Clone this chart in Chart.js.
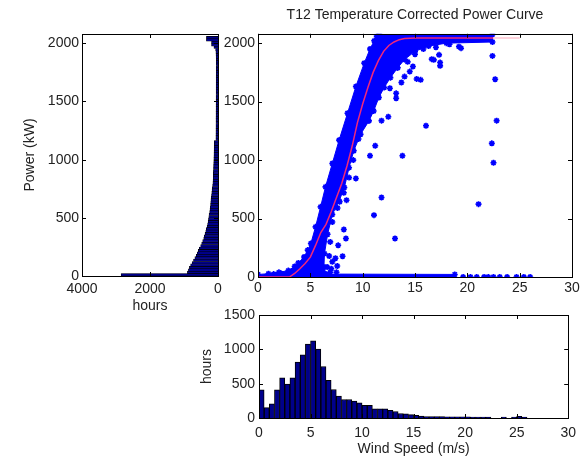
<!DOCTYPE html>
<html>
<head>
<meta charset="utf-8">
<title>T12 Temperature Corrected Power Curve</title>
<script src="https://cdn.jsdelivr.net/npm/chart.js"></script>
<style>
  html, body { margin: 0; padding: 0; background: #fff; }
  body { width: 583px; height: 459px; position: relative; overflow: hidden; }
  canvas { position: absolute; }
  #graficoPotHoras { left: 0; top: 0; }
  #graficoCurva { left: 200px; top: 0; }
  #graficoVento { left: 195px; top: 300px; }
</style>
</head>
<body>
<canvas id="graficoPotHoras" width="230" height="320"></canvas>
<canvas id="graficoCurva" width="383" height="300"></canvas>
<canvas id="graficoVento" width="388" height="159"></canvas>
<script>
// histograma da potencia (classes de 20,8 kW, de 0 a 2080 kW) - horas por classe
var larguraClassePot = 20.8;
var horasPot = [
    2850, 900, 870, 840, 805, 760, 720, 680, 640, 610,
    580, 550, 510, 480, 450, 420, 405, 380, 360, 345,
    320, 305, 290, 280, 270, 262, 245, 235, 225, 218,
    214, 208, 200, 190, 183, 175, 166, 158, 150, 145,
    140, 140, 138, 135, 132, 130, 127, 125, 122, 120,
    118, 116, 114, 112, 110, 108, 62, 62, 61, 61,
    60, 60, 60, 59, 59, 59, 58, 58, 58, 57,
    57, 57, 56, 56, 56, 55, 55, 55, 55, 54,
    54, 54, 54, 53, 53, 53, 53, 52, 52, 52,
    55, 58, 62, 70, 120, 190, 190, 340, 340, 0
];

// histograma do vento (classes de 0,5 m/s, de 0 a 26 m/s) - horas por classe
var larguraClasseVento = 0.5;
var horasVento = [
    410, 150, 205, 410, 585, 495, 585, 815, 920, 1075,
    1125, 1005, 750, 550, 415, 320, 270, 270, 248, 220,
    185, 185, 135, 135, 132, 110, 95, 65, 62, 50,
    40, 28, 22, 20, 20, 19, 18, 18, 17, 16,
    16, 15, 15, 14, 12, 0, 0, 14, 0, 15,
    24, 12
];

// curva de potencia corrigida (m/s, kW)
var curvaVento = [0, 3, 3.5, 4, 4.5, 5, 5.5, 6, 6.5, 7, 7.5, 8, 8.5, 9, 9.5, 10, 10.5, 11, 11.5, 12, 12.5, 13, 13.5, 14, 15, 22.5, 25];
var curvaPot   = [0, 0, 30, 70, 115, 170, 270, 380, 450, 560, 680, 800, 950, 1120, 1320, 1480, 1620, 1750, 1850, 1930, 1980, 2010, 2030, 2040, 2045, 2045, 2045];

// contorno da nuvem densa de medicoes (m/s, kW)
var nuvemVento = [0, 0, 1, 2, 2.9, 3.5, 3.85, 4.4, 4.75, 5.05, 5.5, 5.98, 6.45, 7.1, 7.75, 8.55, 9.35, 10.15, 10.7, 11.1, 11.35, 11.6,
    22.4, 22.4, 18, 16.3, 15.0, 14.0, 13.35, 12.65, 12.05, 11.55, 11.05, 10.6, 9.8, 9.15, 8.7, 8.25, 7.75, 7.1, 6.65, 6.35, 6.3, 6.5, 18.8, 18.8];
var nuvemPot = [-22, 22, 28, 40, 55, 90, 120, 171, 230, 286, 429, 600, 771, 971, 1171, 1400, 1629, 1829, 1950, 2020, 2060, 2075,
    2075, 2010, 2000, 1975, 1930, 1860, 1790, 1705, 1620, 1535, 1420, 1335, 1220, 1080, 935, 765, 650, 535, 365, 200, 86, 25, 22, -22];

// medicoes isoladas fora da nuvem (m/s, kW)
var soltosVento = [21.07, 13.09, 11.08, 11.8, 13.8, 10.7, 11.2, 16.05, 22.5, 22.34, 22.8, 22.66, 22.4, 19.4, 19.2, 17.4, 17.4, 16.6, 16.8, 15.54,
    15.16, 14.5, 14.8, 17.3, 12.45, 11.8, 13.2, 13.2, 12.6, 14.0, 13.7, 8.2, 8.4, 7.66, 8.08, 7.57, 7.0, 6.6, 9.35, 8.46,
    7.8, 19.6, 20.3, 20.9, 21.6, 22.0, 22.5, 23.1, 23.8, 24.7, 25.4, 26.0, 12.2, 12.7, 13.3, 14.3, 15.0, 15.8, 17.0, 18.3,
    11.5, 11.0, 10.5, 10.0, 9.6, 9.1, 8.7, 8.2, 7.6, 7.1, 6.9, 6.8, 7.1, 7.4, 6.9, 7.5, 3.0, 2.2, 1.5];
var soltosPot = [623, 329, 529, 680, 1037, 1037, 1123, 1294, 977, 1143, 1337, 1691, 1891, 1957, 1970, 1834, 1806, 1863, 1857, 1686,
    1694, 1757, 1800, 1900, 1371, 1337, 1529, 1571, 1614, 1714, 1663, 406, 329, 271, 177, 94, 71, 86, 843, 657,
    643, 0, 0, 0, 0, 0, 0, 0, 0, 0, 0, 0, 1900, 1860, 1790, 1840, 1905, 1950, 1965, 1990,
    1700, 1560, 1420, 1300, 1180, 1000, 850, 720, 590, 470, 300, 180, 130, 160, 40, 40, 45, 30, 25];

// marcas dos eixos
var marcasPot = [0, 500, 1000, 1500, 2000];
var marcasHorasPot = [0, 2000, 4000];
var marcasVento = [0, 5, 10, 15, 20, 25, 30];
var marcasHorasVento = [0, 500, 1000, 1500];

var azulBarra = '#00008b';
var azulPonto = '#0000ff';
var corTexto = '#222';

Chart.defaults.font.family = '"Liberation Sans", Arial, sans-serif';
Chart.defaults.font.size = 14;
Chart.defaults.color = corTexto;
Chart.defaults.animation = false;
Chart.defaults.plugins.legend.display = false;
Chart.defaults.plugins.tooltip.enabled = false;

// caixa com marcas para dentro, como no matlab
var caixaMatlab = {
    id: 'caixaMatlab',
    afterDraw: function (grafico) {
        var ctx = grafico.ctx;
        var area = grafico.chartArea;
        var escX = grafico.scales.x;
        var escY = grafico.scales.y;
        var tam = 4;
        ctx.save();
        ctx.strokeStyle = '#000';
        ctx.lineWidth = 1;
        ctx.beginPath();
        escX.ticks.forEach(function (t) {
            var px = Math.round(escX.getPixelForValue(t.value)) + 0.5;
            ctx.moveTo(px, area.bottom); ctx.lineTo(px, area.bottom - tam);
            ctx.moveTo(px, area.top); ctx.lineTo(px, area.top + tam);
        });
        escY.ticks.forEach(function (t) {
            var py = Math.round(escY.getPixelForValue(t.value)) + 0.5;
            ctx.moveTo(area.left, py); ctx.lineTo(area.left + tam, py);
            ctx.moveTo(area.right, py); ctx.lineTo(area.right - tam, py);
        });
        ctx.stroke();
        ctx.strokeRect(Math.round(area.left) + 0.5, Math.round(area.top) + 0.5,
            Math.round(area.right - area.left), Math.round(area.bottom - area.top));
        ctx.restore();
    }
};

function centrosClasses(largura, n) {
    var c = [];
    for (var i = 0; i < n; i++) c.push(largura * (i + 0.5));
    return c;
}

function paresXY(xs, ys) {
    return xs.map(function (x, i) { return { x: x, y: ys[i] }; });
}

function eixo(min, max, marcas, padTicks, extra) {
    var base = {
        type: 'linear',
        min: min,
        max: max,
        offset: false,
        grid: { display: false, drawTicks: false, offset: false },
        border: { display: false },
        afterBuildTicks: function (e) {
            e.ticks = marcas.map(function (v) { return { value: v }; });
        },
        ticks: {
            autoSkip: false,
            maxRotation: 0,
            padding: padTicks,
            callback: function (v) { return String(v); }
        }
    };
    return Object.assign(base, extra);
}

document.addEventListener('DOMContentLoaded', function () {

    var centrosPot = centrosClasses(larguraClassePot, horasPot.length);
    var centrosVento = centrosClasses(larguraClasseVento, horasVento.length);

    // horas por classe de potencia (barras horizontais, eixo invertido)
    new Chart(document.getElementById('graficoPotHoras'), {
        type: 'bar',
        data: {
            datasets: [{
                data: paresXY(horasPot, centrosPot),
                backgroundColor: azulBarra,
                borderColor: '#000',
                borderWidth: 0.6,
                barPercentage: 1,
                categoryPercentage: 1
            }]
        },
        options: {
            responsive: false,
            indexAxis: 'y',
            layout: { padding: { top: 34, right: 12, left: 0, bottom: 0 } },
            scales: {
                x: eixo(0, 4000, marcasHorasPot, 5, {
                    reverse: true,
                    title: { display: true, text: 'hours', padding: { top: 0, bottom: 5 } },
                    afterFit: function (e) { e.height = 44; }
                }),
                y: eixo(0, 2080, marcasPot, 3, {
                    title: { display: true, text: 'Power (kW)', padding: { top: 22, bottom: 0 } },
                    afterFit: function (e) { e.width = 82; }
                })
            }
        },
        plugins: [caixaMatlab]
    });

    // curva de potencia com as medicoes
    new Chart(document.getElementById('graficoCurva'), {
        type: 'scatter',
        data: {
            datasets: [{
                data: paresXY(curvaVento, curvaPot),
                showLine: true,
                borderWidth: 1.5,
                pointRadius: 0,
                segment: {
                    borderColor: function (c) { return c.p0.parsed.x >= 22.5 ? '#ffc4d2' : '#f0287a'; }
                },
                order: 0
            }, {
                data: paresXY(soltosVento, soltosPot),
                pointStyle: 'star',
                pointRadius: 3,
                pointBorderWidth: 1.6,
                pointBorderColor: azulPonto,
                pointBackgroundColor: azulPonto,
                order: 1
            }, {
                data: paresXY(nuvemVento, nuvemPot),
                showLine: true,
                fill: 'shape',
                backgroundColor: azulPonto,
                borderColor: azulPonto,
                borderWidth: 1,
                pointStyle: 'star',
                pointRadius: 3,
                pointBorderWidth: 1.6,
                pointBorderColor: azulPonto,
                order: 2
            }]
        },
        options: {
            responsive: false,
            layout: { padding: { top: 0, right: 11, left: 0, bottom: 0 } },
            plugins: {
                title: {
                    display: true,
                    text: 'T12 Temperature Corrected Power Curve',
                    fullSize: false,
                    color: corTexto,
                    font: { size: 14, weight: 'normal' },
                    padding: { top: 7, bottom: 10 }
                }
            },
            scales: {
                x: eixo(0, 30, marcasVento, 3, { afterFit: function (e) { e.height = 23; } }),
                y: eixo(0, 2080, marcasPot, 3, { afterFit: function (e) { e.width = 58; } })
            }
        },
        plugins: [caixaMatlab]
    });

    // horas por classe de velocidade do vento
    new Chart(document.getElementById('graficoVento'), {
        type: 'bar',
        data: {
            datasets: [{
                data: paresXY(centrosVento, horasVento),
                backgroundColor: azulBarra,
                borderColor: '#000',
                borderWidth: 1,
                barPercentage: 1,
                categoryPercentage: 1
            }]
        },
        options: {
            responsive: false,
            layout: { padding: { top: 15, right: 12, left: 0, bottom: 0 } },
            scales: {
                x: eixo(0, 30, marcasVento, 7, {
                    title: { display: true, text: 'Wind Speed (m/s)', padding: { top: 0, bottom: 1 } },
                    afterFit: function (e) { e.height = 41; }
                }),
                y: eixo(0, 1500, marcasHorasVento, 4, {
                    title: { display: true, text: 'hours', padding: { top: 4, bottom: 0 } },
                    afterFit: function (e) { e.width = 64; }
                })
            }
        },
        plugins: [caixaMatlab]
    });

});
</script>
</body>
</html>
